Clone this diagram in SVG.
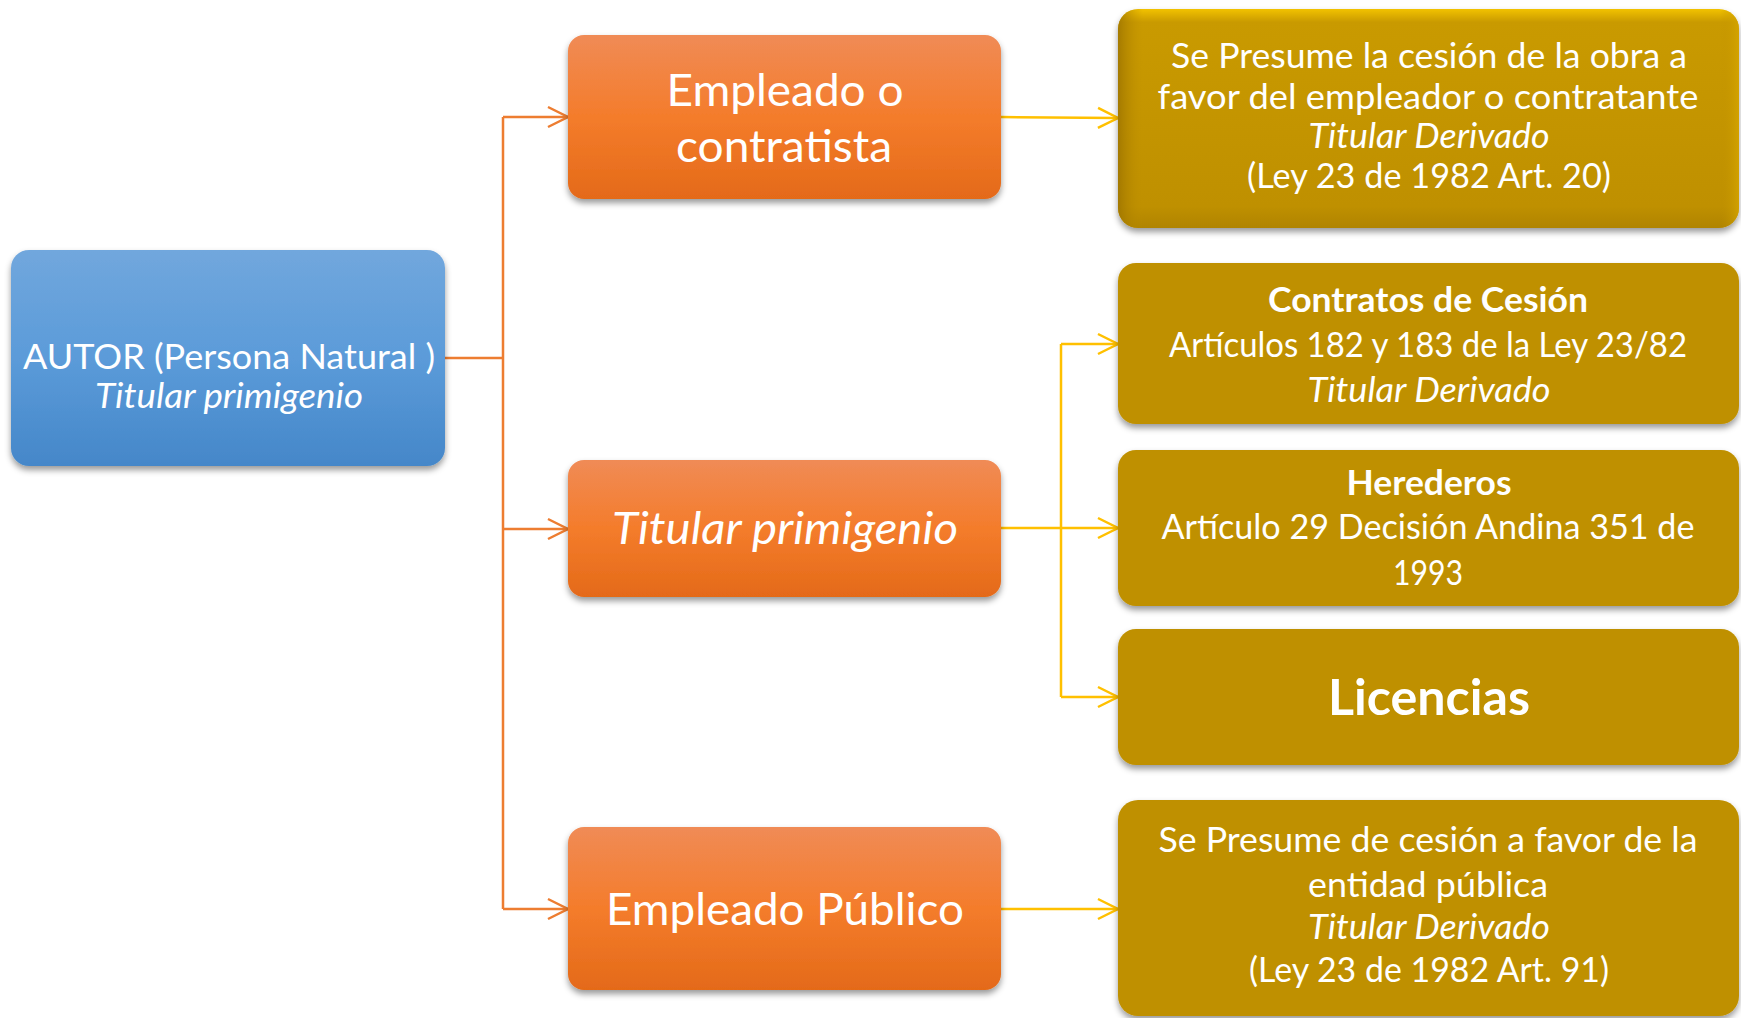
<svg xmlns="http://www.w3.org/2000/svg" width="1741" height="1018" viewBox="0 0 1741 1018">
  <defs>
    <linearGradient id="gBlue" x1="0" y1="0" x2="0" y2="1">
      <stop offset="0" stop-color="#71a7dd"/>
      <stop offset="0.5" stop-color="#5b9bd9"/>
      <stop offset="1" stop-color="#4587c9"/>
    </linearGradient>
    <linearGradient id="gOrange" x1="0" y1="0" x2="0" y2="1">
      <stop offset="0" stop-color="#f08b56"/>
      <stop offset="0.5" stop-color="#f47c2b"/>
      <stop offset="1" stop-color="#e46a19"/>
    </linearGradient>
    <linearGradient id="gGoldV" x1="0" y1="0" x2="0" y2="1">
      <stop offset="0" stop-color="#f2c200"/>
      <stop offset="0.06" stop-color="#c99a00"/>
      <stop offset="0.9" stop-color="#bf9000"/>
      <stop offset="1" stop-color="#b08400"/>
    </linearGradient>
    <linearGradient id="gGoldH" x1="0" y1="0" x2="1" y2="0">
      <stop offset="0" stop-color="#9c7300" stop-opacity="0.8"/>
      <stop offset="0.04" stop-color="#bf9000" stop-opacity="0"/>
      <stop offset="0.97" stop-color="#bf9000" stop-opacity="0"/>
      <stop offset="1" stop-color="#d9a800" stop-opacity="0.7"/>
    </linearGradient>
    <filter id="shadow" x="-10%" y="-10%" width="120%" height="130%">
      <feDropShadow dx="0" dy="4" stdDeviation="3" flood-color="#000" flood-opacity="0.4"/>
    </filter>
    <marker id="arrO" markerUnits="userSpaceOnUse" markerWidth="26" markerHeight="26" refX="22" refY="12" orient="auto">
      <path d="M2,2 L22,12 L2,22" fill="none" stroke="#ed7d31" stroke-width="2.5"/>
    </marker>
    <marker id="arrY" markerUnits="userSpaceOnUse" markerWidth="26" markerHeight="26" refX="22" refY="12" orient="auto">
      <path d="M2,2 L22,12 L2,22" fill="none" stroke="#ffc000" stroke-width="2.5"/>
    </marker>
  </defs>
  <style>
    text { fill: #ffffff; font-family: Lato, "Open Sans", "Liberation Sans", sans-serif; text-anchor: middle; }
    .it { font-style: italic; }
    .b { font-weight: bold; }
    .f38 { font-size: 35px; }
    .f49 { font-size: 45px; }
    .f55 { font-size: 50px; }
    .gold { fill: #bf9000; }
    .co { fill: none; stroke: #ed7d31; stroke-width: 2.5; }
    .cy { fill: none; stroke: #ffc000; stroke-width: 2.5; }
  </style>
  <rect width="1741" height="1018" fill="#ffffff"/>

  <g id="connectors">
    <path class="co" d="M445 358 H503"/>
    <path class="co" d="M503 117 V909"/>
    <path class="co" d="M503 117 H568" marker-end="url(#arrO)"/>
    <path class="co" d="M503 529 H568" marker-end="url(#arrO)"/>
    <path class="co" d="M503 909 H568" marker-end="url(#arrO)"/>
    <path class="cy" d="M1001 117 L1118 118" marker-end="url(#arrY)"/>
    <path class="cy" d="M1001 528 H1118" marker-end="url(#arrY)"/>
    <path class="cy" d="M1061 344 V697"/>
    <path class="cy" d="M1061 344 H1118" marker-end="url(#arrY)"/>
    <path class="cy" d="M1061 697 H1118" marker-end="url(#arrY)"/>
    <path class="cy" d="M1001 909 H1118" marker-end="url(#arrY)"/>
  </g>

  <g id="autor">
    <rect x="11" y="250" width="434" height="216" rx="18" fill="url(#gBlue)" filter="url(#shadow)"/>
    <text class="f38" x="229" y="369" textLength="412" lengthAdjust="spacingAndGlyphs">AUTOR (Persona Natural )</text>
    <text class="f38 it" x="229" y="408" textLength="268" lengthAdjust="spacingAndGlyphs">Titular primigenio</text>
  </g>

  <g id="empleado-contratista">
    <rect x="568" y="35" width="433" height="164" rx="16" fill="url(#gOrange)" filter="url(#shadow)"/>
    <text class="f49" x="785" y="106" textLength="237" lengthAdjust="spacingAndGlyphs">Empleado o</text>
    <text class="f49" x="784" y="162" textLength="216" lengthAdjust="spacingAndGlyphs">contratista</text>
  </g>

  <g id="titular-primigenio">
    <rect x="568" y="460" width="433" height="137" rx="16" fill="url(#gOrange)" filter="url(#shadow)"/>
    <text class="f49 it" x="785" y="544" textLength="346" lengthAdjust="spacingAndGlyphs">Titular primigenio</text>
  </g>

  <g id="empleado-publico">
    <rect x="568" y="827" width="433" height="163" rx="16" fill="url(#gOrange)" filter="url(#shadow)"/>
    <text class="f49" x="785" y="925" textLength="358" lengthAdjust="spacingAndGlyphs">Empleado Público</text>
  </g>

  <g id="cesion-empleador">
    <rect x="1118" y="9" width="621" height="219" rx="20" fill="url(#gGoldV)" filter="url(#shadow)"/>
    <rect x="1118" y="9" width="621" height="219" rx="20" fill="url(#gGoldH)"/>
    <text class="f38" x="1429" y="68" textLength="516" lengthAdjust="spacingAndGlyphs">Se Presume la cesión de la obra a</text>
    <text class="f38" x="1428" y="109" textLength="541" lengthAdjust="spacingAndGlyphs">favor del empleador o contratante</text>
    <text class="f38 it" x="1429" y="148" textLength="241" lengthAdjust="spacingAndGlyphs">Titular Derivado</text>
    <text class="f38" x="1429" y="188" textLength="364" lengthAdjust="spacingAndGlyphs">(Ley 23 de 1982 Art. 20)</text>
  </g>

  <g id="contratos-cesion">
    <rect class="gold" x="1118" y="263" width="621" height="161" rx="18" filter="url(#shadow)"/>
    <text class="f38 b" x="1428" y="312" textLength="320" lengthAdjust="spacingAndGlyphs">Contratos de Cesión</text>
    <text class="f38" x="1428" y="357" textLength="518" lengthAdjust="spacingAndGlyphs">Artículos 182 y 183 de la Ley 23/82</text>
    <text class="f38 it" x="1429" y="402" textLength="243" lengthAdjust="spacingAndGlyphs">Titular Derivado</text>
  </g>

  <g id="herederos">
    <rect class="gold" x="1118" y="450" width="621" height="156" rx="18" filter="url(#shadow)"/>
    <text class="f38 b" x="1429" y="495" textLength="165" lengthAdjust="spacingAndGlyphs">Herederos</text>
    <text class="f38" x="1428" y="539" textLength="533" lengthAdjust="spacingAndGlyphs">Artículo 29 Decisión Andina 351 de</text>
    <text class="f38" x="1428" y="585" textLength="70" lengthAdjust="spacingAndGlyphs">1993</text>
  </g>

  <g id="licencias">
    <rect class="gold" x="1118" y="629" width="621" height="136" rx="18" filter="url(#shadow)"/>
    <text class="f55 b" x="1429" y="715" textLength="202" lengthAdjust="spacingAndGlyphs">Licencias</text>
  </g>

  <g id="cesion-entidad-publica">
    <rect class="gold" x="1118" y="800" width="621" height="216" rx="20" filter="url(#shadow)"/>
    <text class="f38" x="1428" y="852" textLength="539" lengthAdjust="spacingAndGlyphs">Se Presume de cesión a favor de la</text>
    <text class="f38" x="1428" y="897" textLength="240" lengthAdjust="spacingAndGlyphs">entidad pública</text>
    <text class="f38 it" x="1429" y="939" textLength="242" lengthAdjust="spacingAndGlyphs">Titular Derivado</text>
    <text class="f38" x="1429" y="982" textLength="360" lengthAdjust="spacingAndGlyphs">(Ley 23 de 1982 Art. 91)</text>
  </g>
</svg>
